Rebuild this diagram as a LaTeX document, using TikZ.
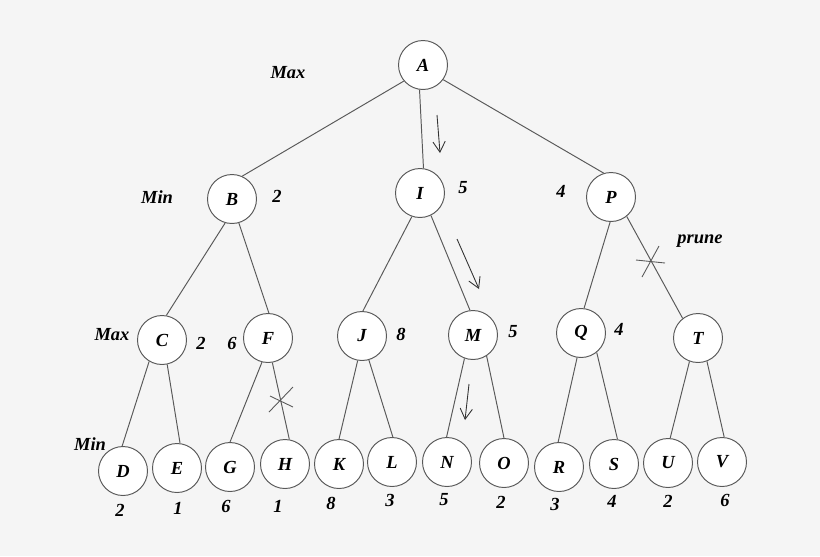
\documentclass[tikz,border=0pt]{standalone}
\usepackage{fontspec}
\setmainfont{Liberation Serif}
\usetikzlibrary{arrows.meta}

\tikzset{
  vert/.style={circle,draw=black!65,fill=white,line width=0.55pt,minimum size=0.98cm,inner sep=0pt,
               font=\fontsize{10.5}{12}\selectfont\bfseries\itshape},
  lbl/.style={inner sep=0pt,font=\fontsize{10.5}{12}\selectfont\bfseries\itshape},
  edge/.style={draw=black!65,line width=0.55pt},
  walk/.style={draw=black!80,line width=0.5pt,-{Straight Barb[length=6pt,width=7pt]}},
  cut/.style={draw=black!65,line width=0.5pt}
}

\begin{document}
\begin{tikzpicture}[x=0.02cm,y=-0.02cm]
  % Canvas
  \fill[black!4] (0,0) rectangle (820,556);
  \useasboundingbox (0,0) rectangle (820,556);

  % Root and first level
  \node[vert] (A) at (423,65) {A};
  \node[vert] (B) at (232,199) {B};
  \node[vert] (I) at (420,193) {I};
  \node[vert] (P) at (611,197) {P};

  % Second level
  \node[vert] (C) at (162,340) {C};
  \node[vert] (F) at (268,338) {F};
  \node[vert] (J) at (362,336) {J};
  \node[vert] (M) at (473,335) {M};
  \node[vert] (Q) at (581,333) {Q};
  \node[vert] (T) at (698,338) {T};

  % Leaves
  \node[vert] (D) at (123,471) {D};
  \node[vert] (E) at (177,468) {E};
  \node[vert] (G) at (230,467) {G};
  \node[vert] (H) at (285,464) {H};
  \node[vert] (K) at (339,464) {K};
  \node[vert] (L) at (392,462) {L};
  \node[vert] (N) at (447,462) {N};
  \node[vert] (O) at (504,463) {O};
  \node[vert] (R) at (559,467) {R};
  \node[vert] (S) at (614,464) {S};
  \node[vert] (U) at (668,463) {U};
  \node[vert] (V) at (722,462) {V};

  % Edges
  \foreach \p/\a/\c/\b in {A/220/B/66, A/262/I/82, A/324/P/107,
                           B/254/C/80, B/286/F/88, I/251/J/88, I/296/M/97,
                           P/268/Q/83, P/309/T/128,
                           C/239/D/92, C/282/E/83, F/256/G/90, F/280/H/80,
                           J/260/K/90, J/286/L/88, M/250/N/91, M/303/O/90,
                           Q/261/R/92, Q/309/S/82, T/250/U/85, T/291/V/85}
    \draw[edge] (\p.\a) -- (\c.\b);

  % Level labels
  \node[lbl] (max1) at (288,73) {Max};
  \node[lbl] (min1) at (157,197) {Min};
  \node[lbl] (max2) at (112,335) {Max};
  \node[lbl] (min2) at (90,444) {Min};
  \node[lbl] (prune) at (700,241) {prune};

  % Backed-up values
  \node[lbl] (vB) at (277,196) {2};
  \node[lbl] (vI) at (463,188) {5};
  \node[lbl] (vP) at (561,191) {4};
  \node[lbl] (vC) at (201,343) {2};
  \node[lbl] (vF) at (232,343) {6};
  \node[lbl] (vJ) at (401,334) {8};
  \node[lbl] (vM) at (513,332) {5};
  \node[lbl] (vQ) at (619,329) {4};

  % Leaf values
  \node[lbl] (vD) at (120,510) {2};
  \node[lbl] (vE) at (178,508) {1};
  \node[lbl] (vG) at (226,506) {6};
  \node[lbl] (vH) at (278,506) {1};
  \node[lbl] (vK) at (331,503) {8};
  \node[lbl] (vL) at (390,500) {3};
  \node[lbl] (vN) at (444,500) {5};
  \node[lbl] (vO) at (501,502) {2};
  \node[lbl] (vR) at (555,504) {3};
  \node[lbl] (vS) at (612,501) {4};
  \node[lbl] (vU) at (668,501) {2};
  \node[lbl] (vV) at (725,500) {6};

  % Search path
  \draw[walk] (437,115) -- (440,153);
  \draw[walk] (457,239) -- (479,289);
  \draw[walk] (469,384) -- (465,420);

  % Cut-offs
  \draw[cut] (269,412) -- (293,387);
  \draw[cut] (270,396) -- (293,407);
  \draw[cut] (636,260) -- (665,263);
  \draw[cut] (642,277) -- (659,246);

\end{tikzpicture}
\end{document}
